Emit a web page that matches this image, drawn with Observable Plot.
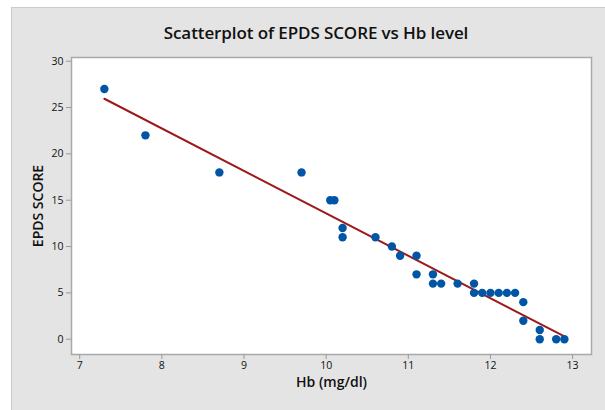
<!DOCTYPE html>
<html>
<head>
<meta charset="utf-8">
<script src="https://cdn.jsdelivr.net/npm/d3@7"></script>
<script src="https://cdn.jsdelivr.net/npm/@observablehq/plot@0.6"></script>
<style>
  html, body { margin: 0; padding: 0; background: #ffffff; }
  #wrap { position: relative; width: 605px; height: 410px; overflow: hidden; }
  #bg { position: absolute; left: 11px; top: 7px; width: 600px; height: 410px;
        background: #e4e4e4; border-left: 1px solid #cbcbcb; border-top: 1px solid #cbcbcb; }
  #title { position: absolute; left: 0; top: 21px; width: 632px; text-align: center;
           font-family: "Open Sans", sans-serif; font-size: 17px; font-weight: 600; color: #111; letter-spacing: -0.1px; }
  #chart { position: absolute; left: 0; top: 0; }
</style>
</head>
<body>
<div id="wrap">
  <div id="bg"></div>
  <div id="title">Scatterplot of EPDS SCORE vs Hb level</div>
  <div id="chart"></div>
</div>
<script>
const hb   = [7.3, 7.8, 8.7, 9.7, 10.05, 10.1, 10.2, 10.2, 10.6, 10.8, 10.9, 11.1, 11.1, 11.3, 11.3,
              11.4, 11.6, 11.8, 11.8, 11.9, 12.0, 12.1, 12.2, 12.3, 12.4, 12.4, 12.6, 12.6, 12.8, 12.9];
const epds = [27, 22, 18, 18, 15, 15, 12, 11, 11, 10, 9, 9, 7, 7, 6,
              6, 6, 6, 5, 5, 5, 5, 5, 5, 4, 2, 1, 0, 0, 0];
const xTicks = [7, 8, 9, 10, 11, 12, 13];
const yTicks = [0, 5, 10, 15, 20, 25, 30];
const xLabel = "Hb (mg/dl)";
const yLabel = "EPDS SCORE";

const data = hb.map((x, i) => ({hb: x, epds: epds[i]}));

const chart = Plot.plot({
  width: 605,
  height: 410,
  marginLeft: 71,
  marginRight: 14,
  marginTop: 57,
  marginBottom: 56,
  style: {background: "transparent", fontFamily: "'Open Sans', sans-serif", fontSize: "10.5px", color: "#111"},
  x: {domain: [6.9, 13.23]},
  y: {domain: [-1.65, 30.4]},
  marks: [
    Plot.frame({fill: "white", stroke: "#a9a9a9", strokeWidth: 1.5}),
    Plot.axisX({ticks: xTicks, tickFormat: d3.format("d"), tickSize: 5, tickPadding: 2, stroke: "#999", label: null}),
    Plot.axisY({ticks: yTicks, tickFormat: d3.format("d"), tickSize: 5, tickPadding: 3, stroke: "#999", label: null}),
    Plot.text([xLabel], {frameAnchor: "bottom", dy: 32, text: d => d, fontSize: 14, fontWeight: 600, fill: "#111"}),
    Plot.text([yLabel], {frameAnchor: "left", dx: -33, rotate: -90, textAnchor: "middle", text: d => d, fontSize: 14, fontWeight: 600, fill: "#111"}),
    Plot.linearRegressionY(data, {x: "hb", y: "epds", stroke: "#9c1a1a", strokeWidth: 2, ci: 0}),
    Plot.dot(data, {x: "hb", y: "epds", r: 4.2, fill: "#0055a5", stroke: "none"})
  ]
});
document.getElementById("chart").appendChild(chart);
</script>
</body>
</html>
